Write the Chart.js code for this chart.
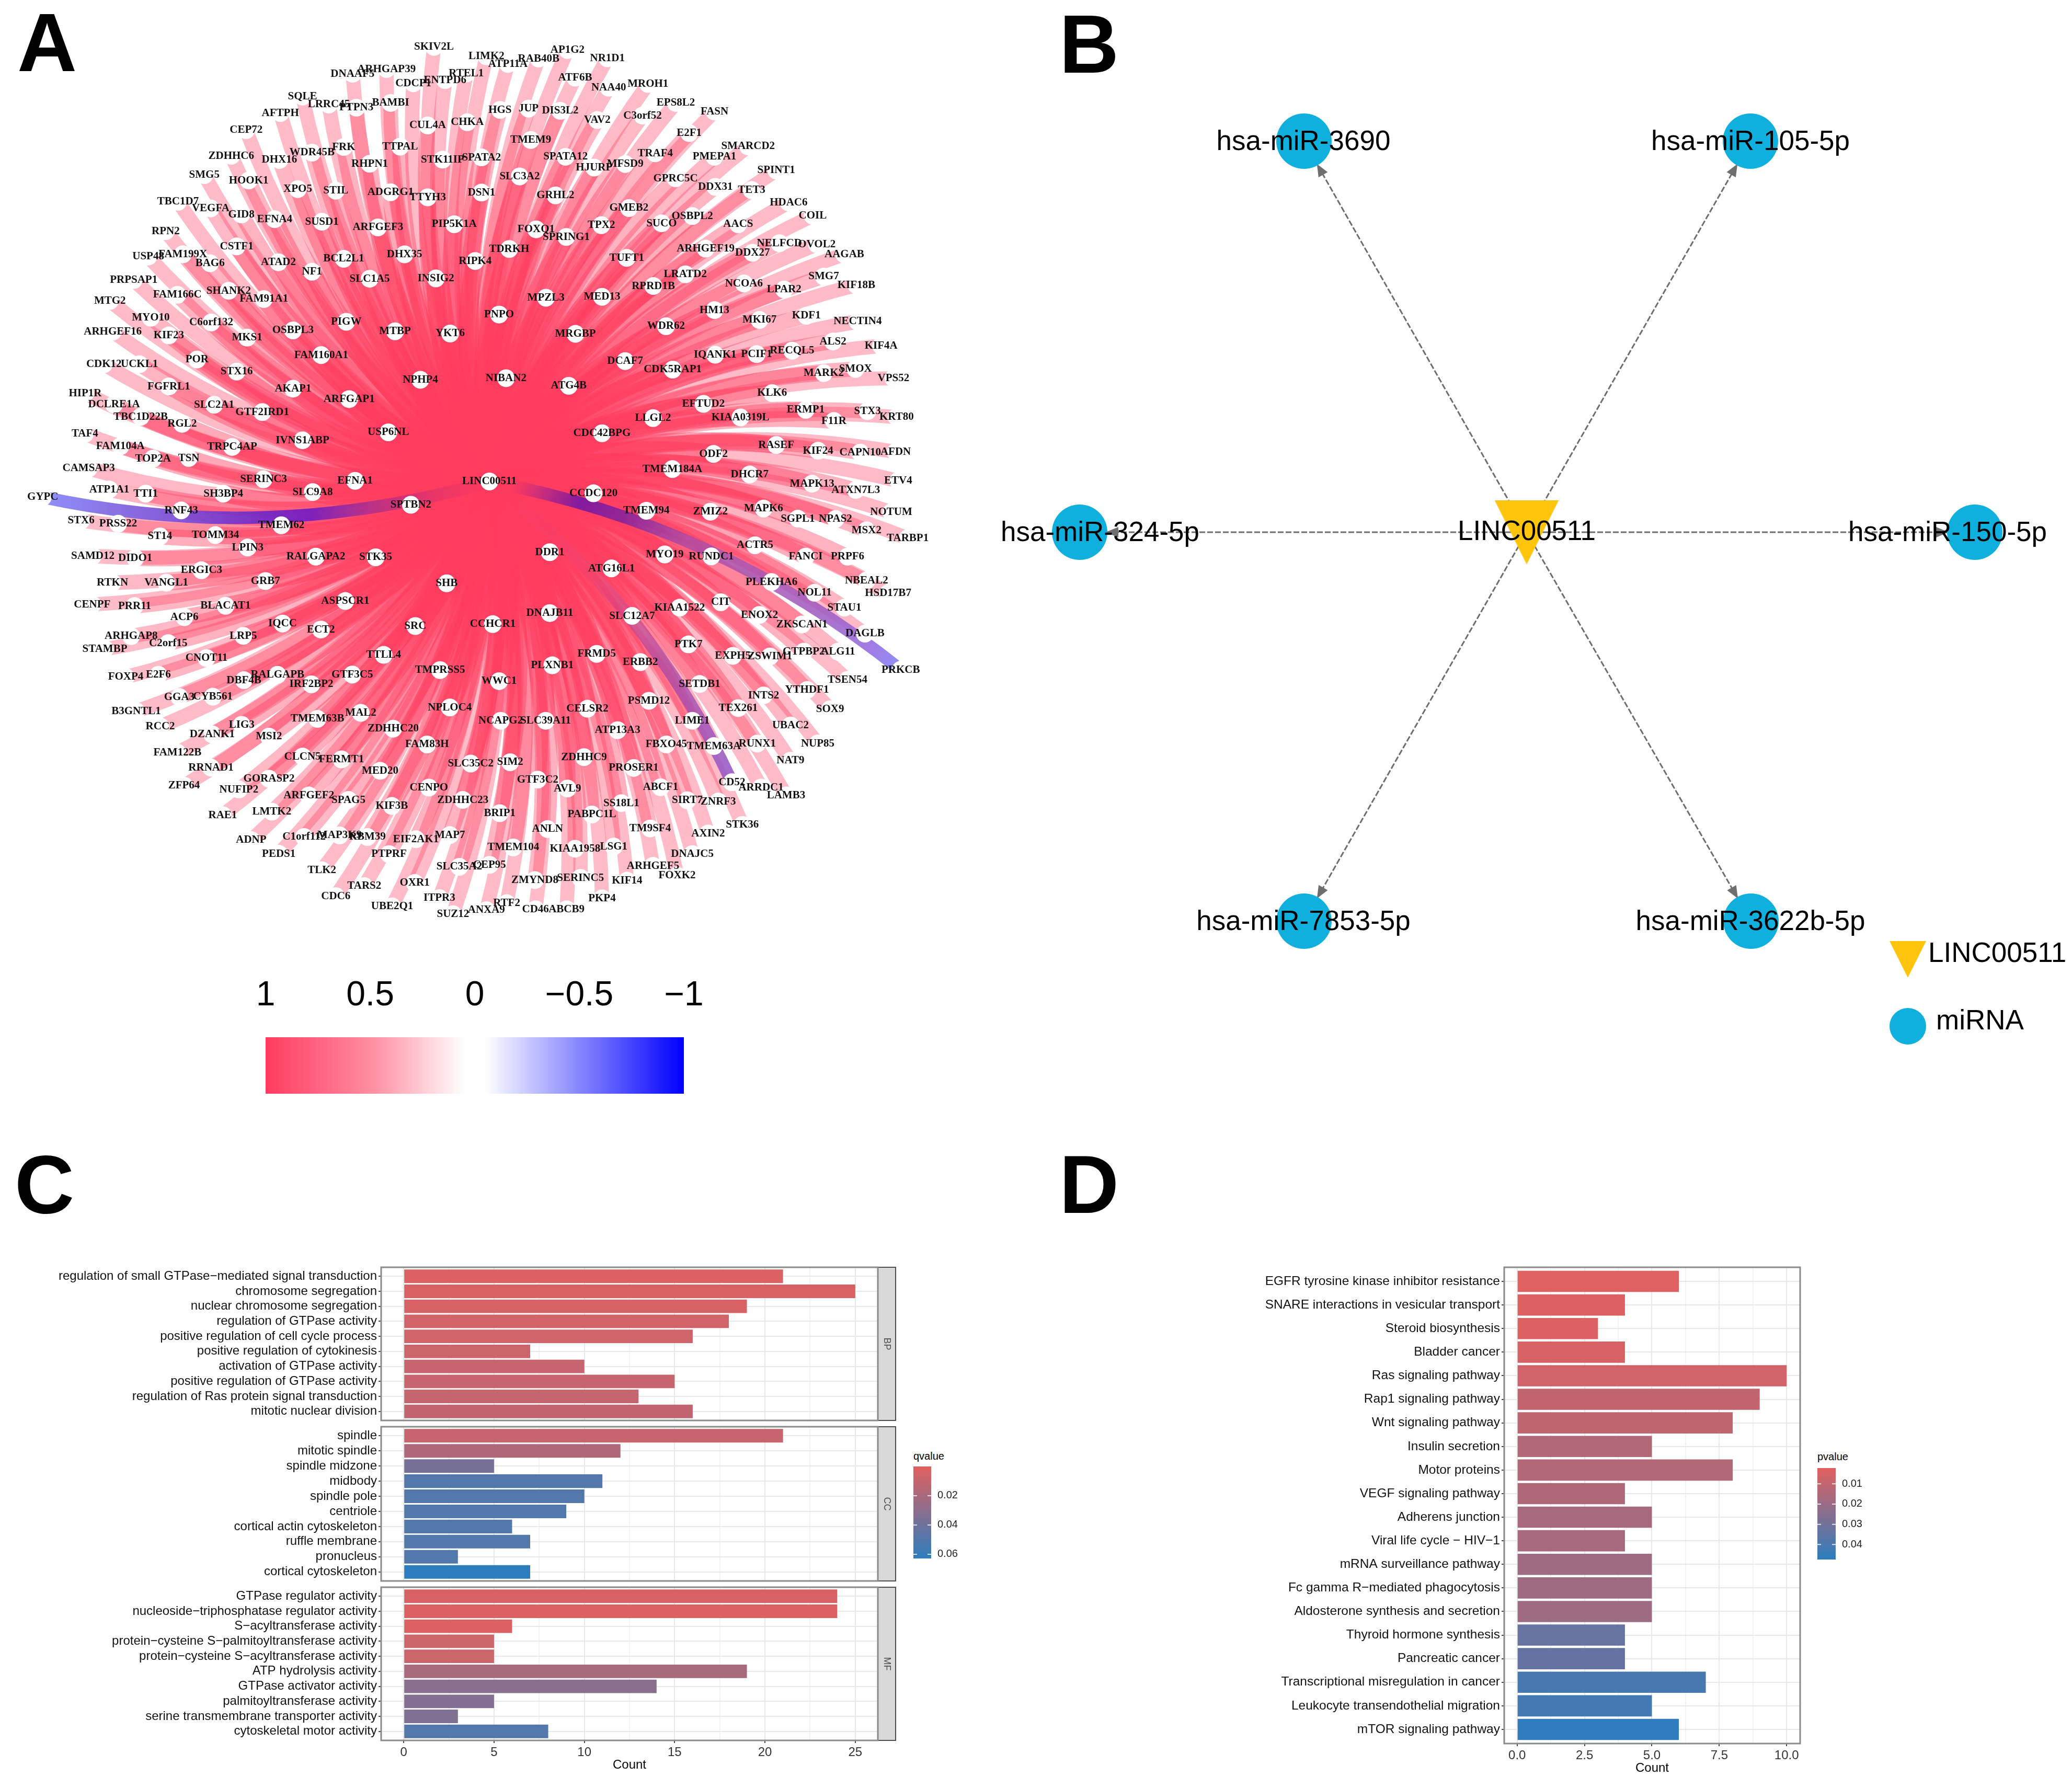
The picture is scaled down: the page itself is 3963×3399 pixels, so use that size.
<!DOCTYPE html>
<html>
<head>
<meta charset="utf-8">
<title>LINC00511 network and enrichment</title>
<script src="https://cdn.jsdelivr.net/npm/chart.js@4/dist/chart.umd.min.js"></script>
<style>
html, body { margin: 0; background: #fff; }
#page { position: relative; width: 3963px; height: 3399px; overflow: hidden; background: #fff; }
#page canvas { position: absolute; filter: blur(0.7px); }
.letter { position: absolute; font: bold 158px/1 "Liberation Sans", Arial, sans-serif; color: #000; }
.barTitle { position: absolute; font: 20px/1 "Liberation Sans", Arial, sans-serif; color: #000; }
</style>
</head>
<body>
<div id="page">
  <div class="letter" style="left:33px;top:2px">A</div>
  <div class="letter" style="left:2026px;top:5px">B</div>
  <div class="letter" style="left:28px;top:2186px">C</div>
  <div class="letter" style="left:2026px;top:2186px">D</div>
  <div class="barTitle" style="left:1747px;top:2775px">qvalue</div>
  <div class="barTitle" style="left:3476px;top:2776px">pvalue</div>
</div>
<script>
// panel A: genes, one list per quadrant [name, x, y] (quadrant units)
const genesNW = [['SKIV2L',1370,148],['DNAAF5',1113,233],['ARHGAP39',1220,218],['RTEL1',1472,232],['CDCP1',1305,263],['ENTPD6',1405,253],['SQLE',955,305],['LRRC45',1038,330],['PTPN3',1125,340],['BAMBI',1233,325],['AFTPH',885,357],['CUL4A',1350,396],['CHKA',1475,386],['CEP72',777,411],['ZDHHC6',730,492],['DHX16',882,505],['WDR45B',985,482],['FRK',1085,464],['TTPAL',1263,463],['RHPN1',1167,517],['STK11IP',1397,504],['SPATA2',1520,497],['SMG5',645,553],['HOOK1',785,570],['XPO5',940,597],['STIL',1060,602],['ADGRG1',1233,607],['TTYH3',1350,623],['DSN1',1520,608],['TBC1D7',562,637],['VEGFA',665,658],['GID8',762,677],['EFNA4',867,692],['SUSD1',1016,700],['ARFGEF3',1193,718],['PIP5K1A',1434,708],['RPN2',523,730],['CSTF1',747,778],['USP48',468,810],['FAM199X',577,803],['BAG6',663,831],['ATAD2',879,828],['BCL2L1',1085,817],['DHX35',1277,803],['RIPK4',1500,824],['NF1',985,858],['SLC1A5',1167,880],['INSIG2',1376,879],['PRPSAP1',422,884],['FAM166C',560,931],['SHANK2',722,918],['FAM91A1',833,944],['MTG2',347,950],['MYO10',476,1003],['C6orf132',667,1018],['PIGW',1093,1016],['OSBPL3',925,1043],['MTBP',1247,1046],['YKT6',1421,1053],['ARHGEF16',356,1047],['KIF23',533,1059],['MKS1',780,1066],['FAM160A1',1014,1121],['POR',622,1135],['CDK12',328,1150],['UCKL1',440,1150],['STX16',747,1173],['NPHP4',1327,1199],['HIP1R',269,1242],['FGFRL1',533,1220],['AKAP1',925,1227],['DCLRE1A',360,1277],['ARFGAP1',1102,1260],['SLC2A1',676,1278],['GTF2IRD1',828,1301],['TBC1D22B',444,1316],['RGL2',575,1338],['USP6NL',1226,1365],['TAF4',268,1370],['IVNS1ABP',955,1390],['FAM104A',380,1409],['TRPC4AP',733,1411],['TOP2A',483,1448],['TSN',596,1446],['CAMSAP3',280,1479],['SERINC3',832,1513],['EFNA1',1121,1518]];
const genesNE = [['LIMK2',50,178],['ATP11A',118,202],['RAB40B',215,185],['AP1G2',306,158],['NR1D1',432,184],['ATF6B',330,245],['NAA40',436,277],['MROH1',560,265],['HGS',93,347],['JUP',183,343],['DIS3L2',283,350],['VAV2',400,379],['C3orf52',543,365],['EPS8L2',648,325],['FASN',770,352],['E2F1',690,420],['TMEM9',190,442],['SPATA12',300,495],['TRAF4',583,484],['HJURP',390,529],['MFSD9',488,518],['PMEPA1',770,495],['SMARCD2',876,462],['SLC3A2',155,557],['GPRC5C',647,563],['DDX31',773,590],['SPINT1',965,538],['TET3',887,600],['GRHL2',268,617],['GMEB2',500,657],['HDAC6',1004,639],['OSBPL2',700,682],['SUCO',603,705],['AACS',845,708],['COIL',1080,681],['FOXQ1',207,724],['TPX2',413,711],['SPRING1',302,748],['NELFCD',975,768],['OVOL2',1093,771],['ARHGEF19',742,785],['DDX27',890,798],['AAGAB',1180,803],['TDRKH',122,786],['TUFT1',493,814],['LRATD2',678,866],['RPRD1B',577,903],['NCOA6',863,895],['SMG7',1115,873],['KIF18B',1218,900],['LPAR2',990,914],['MED13',415,937],['MPZL3',238,940],['HM13',770,979],['PNPO',90,993],['MKI67',912,1010],['KDF1',1060,997],['NECTIN4',1222,1015],['WDR62',617,1030],['MRGBP',331,1054],['ALS2',1144,1078],['KIF4A',1296,1092],['IQANK1',772,1120],['PCIF1',903,1118],['RECQL5',1015,1107],['DCAF7',488,1140],['CDK5RAP1',638,1167],['SMOX',1215,1165],['MARK2',1115,1178],['VPS52',1335,1194],['NIBAN2',112,1194],['ATG4B',310,1218],['KLK6',952,1241],['EFTUD2',735,1275],['ERMP1',1058,1294],['STX3',1253,1298],['KRT80',1345,1317],['F11R',1147,1329],['LLGL2',576,1320],['KIAA0319L',852,1318],['CDC42BPG',415,1368],['RASEF',965,1405],['KIF24',1097,1423],['CAPN10',1230,1429],['AFDN',1342,1427],['ODF2',767,1433],['TMEM184A',637,1481],['DHCR7',881,1498],['ETV4',1350,1518],['MAPK13',1078,1527],['ATXN7L3',1216,1547]];
const genesSW = [['GYPC',135,84],['ATP1A1',345,60],['TTI1',460,73],['SH3BP4',705,73],['SLC9A8',987,68],['RNF43',572,126],['SPTBN2',1297,108],['STX6',256,158],['PRSS22',373,168],['TMEM62',888,173],['ST14',505,208],['TOMM34',680,204],['LPIN3',782,243],['SAMD12',293,270],['DIDO1',427,277],['RALGAPA2',997,272],['STK35',1186,274],['ERGIC3',636,315],['GRB7',838,349],['RTKN',355,354],['VANGL1',525,354],['SHB',1410,356],['ASPSCR1',1090,412],['CENPF',291,423],['PRR11',425,428],['BLACAT1',712,427],['ACP6',582,463],['IQCC',892,483],['SRC',1311,491],['ECT2',1013,502],['ARHGAP8',414,523],['C2orf15',531,545],['LRP5',768,522],['STAMBP',331,564],['CNOT11',652,592],['TTLL4',1211,582],['TMPRSS5',1389,630],['FOXP4',397,652],['E2F6',500,645],['RALGAPB',876,645],['GTF3C5',1112,644],['DBF4B',770,662],['IRF2BP2',983,675],['GGA3',566,715],['CYB561',672,714],['B3GNTL1',430,760],['NPLOC4',1420,748],['MAL2',1139,765],['TMEM63B',1002,784],['RCC2',506,808],['LIG3',763,803],['ZDHHC20',1241,815],['DZANK1',670,833],['MSI2',849,840],['FAM83H',1348,865],['FAM122B',560,891],['CLCN5',955,903],['FERMT1',1078,912],['SLC35C2',1486,925],['RRNAD1',666,938],['MED20',1200,948],['GORASP2',849,973],['ZFP64',581,995],['CENPO',1354,1001],['NUFIP2',754,1007],['ARFGEF2',975,1026],['SPAG5',1100,1040],['ZDHHC23',1461,1040],['KIF3B',1237,1059],['LMTK2',858,1077],['RAE1',703,1088],['C1orf112',960,1157],['MAP3K9',1072,1152],['RBM39',1160,1157],['EIF2AK1',1313,1164],['MAP7',1420,1151],['ADNP',793,1167],['PEDS1',880,1210],['PTPRF',1228,1211],['SLC35A2',1450,1251],['TLK2',1016,1262],['OXR1',1309,1302],['TARS2',1150,1312],['CDC6',1060,1344],['ITPR3',1387,1350],['UBE2Q1',1238,1376],['SUZ12',1430,1401]];
const genesSE = [['CCDC120',388,72],['TMEM94',555,127],['ZMIZ2',757,130],['MAPK6',925,120],['SGPL1',1033,152],['NPAS2',1152,153],['NOTUM',1328,132],['MSX2',1250,189],['TARBP1',1380,214],['ACTR5',898,236],['DDR1',250,258],['MYO19',613,265],['RUNDC1',760,271],['FANCI',1058,272],['PRPF6',1190,272],['ATG16L1',445,309],['NBEAL2',1250,347],['PLEKHA6',950,352],['NOL11',1086,386],['HSD17B7',1318,388],['CIT',790,416],['KIAA1522',660,433],['STAU1',1180,433],['DNAJB11',250,450],['SLC12A7',510,459],['ENOX2',912,456],['ZKSCAN1',1046,486],['DAGLB',1245,515],['CCHCR1',70,485],['PTK7',688,549],['FRMD5',398,579],['EXPH5',828,585],['ZSWIM1',945,587],['GTPBP2',1052,572],['ALG11',1160,572],['ERBB2',536,605],['PLXNB1',258,615],['PRKCB',1358,629],['TSEN54',1190,661],['WWC1',90,665],['SETDB1',723,674],['YTHDF1',1062,693],['INTS2',925,710],['PSMD12',563,727],['TEX261',845,750],['CELSR2',369,752],['SOX9',1135,754],['ATP13A3',464,820],['LIME1',700,790],['NCAPG2',95,790],['SLC39A11',237,790],['UBAC2',1010,805],['FBXO45',618,865],['TMEM63A',768,870],['RUNX1',905,862],['NUP85',1096,862],['SIM2',125,921],['ZDHHC9',358,905],['NAT9',1010,916],['PROSER1',515,939],['GTF3C2',212,976],['AVL9',306,1004],['CD52',825,984],['ABCF1',600,1000],['ARRDC1',917,1001],['LAMB3',996,1026],['SIRT7',684,1041],['ZNRF3',782,1045],['SS18L1',476,1050],['BRIP1',92,1082],['PABPC1L',383,1086],['STK36',858,1119],['ANLN',243,1132],['TM9SF4',567,1130],['AXIN2',750,1146],['TMEM104',135,1190],['KIAA1958',330,1194],['LSG1',452,1187],['DNAJC5',700,1211],['ARHGEF5',576,1248],['CEP95',60,1245],['FOXK2',652,1279],['ZMYND8',203,1293],['SERINC5',347,1286],['KIF14',494,1295],['PKP4',415,1351],['RTF2',114,1366],['ANXA9',50,1388],['CD46',205,1385],['ABCB9',303,1385]];
const hub = ['LINC00511', 936, 921];
const negativeGenes = ['GYPC', 'PRKCB', 'CD52'];
const corrTicks = [1, 0.5, 0, -0.5, -1];

// panel B
const mirnaNames = ['hsa-miR-3690', 'hsa-miR-105-5p', 'hsa-miR-324-5p', 'hsa-miR-150-5p', 'hsa-miR-7853-5p', 'hsa-miR-3622b-5p'];
const mirnaX = [2494, 3348, 2065, 3777, 2494, 3349];
const mirnaY = [270, 270, 1018, 1018, 1762, 1762];
const mirnaLabelX = [2493, 3348, 2104, 3725, 2493, 3348];
const lncX = 2920, lncY = 1018;

// panel C
const bpTerms = ['regulation of small GTPase−mediated signal transduction', 'chromosome segregation', 'nuclear chromosome segregation', 'regulation of GTPase activity', 'positive regulation of cell cycle process', 'positive regulation of cytokinesis', 'activation of GTPase activity', 'positive regulation of GTPase activity', 'regulation of Ras protein signal transduction', 'mitotic nuclear division'];
const bpCounts = [21, 25, 19, 18, 16, 7, 10, 15, 13, 16];
const bpQ = [0.002, 0.003, 0.004, 0.006, 0.007, 0.008, 0.009, 0.009, 0.010, 0.011];
const ccTerms = ['spindle', 'mitotic spindle', 'spindle midzone', 'midbody', 'spindle pole', 'centriole', 'cortical actin cytoskeleton', 'ruffle membrane', 'pronucleus', 'cortical cytoskeleton'];
const ccCounts = [21, 12, 5, 11, 10, 9, 6, 7, 3, 7];
const ccQ = [0.009, 0.018, 0.037, 0.05, 0.05, 0.05, 0.05, 0.05, 0.05, 0.063];
const mfTerms = ['GTPase regulator activity', 'nucleoside−triphosphatase regulator activity', 'S−acyltransferase activity', 'protein−cysteine S−palmitoyltransferase activity', 'protein−cysteine S−acyltransferase activity', 'ATP hydrolysis activity', 'GTPase activator activity', 'palmitoyltransferase activity', 'serine transmembrane transporter activity', 'cytoskeletal motor activity'];
const mfCounts = [24, 24, 6, 5, 5, 19, 14, 5, 3, 8];
const mfQ = [0.004, 0.002, 0.002, 0.008, 0.008, 0.02, 0.031, 0.033, 0.034, 0.05];
const goCountTicks = [0, 2.5, 5, 7.5, 10, 12.5, 15, 17.5, 20, 22.5, 25];
const qTicks = [0.02, 0.04, 0.06];

// panel D
const keggTerms = ['EGFR tyrosine kinase inhibitor resistance', 'SNARE interactions in vesicular transport', 'Steroid biosynthesis', 'Bladder cancer', 'Ras signaling pathway', 'Rap1 signaling pathway', 'Wnt signaling pathway', 'Insulin secretion', 'Motor proteins', 'VEGF signaling pathway', 'Adherens junction', 'Viral life cycle − HIV−1', 'mRNA surveillance pathway', 'Fc gamma R−mediated phagocytosis', 'Aldosterone synthesis and secretion', 'Thyroid hormone synthesis', 'Pancreatic cancer', 'Transcriptional misregulation in cancer', 'Leukocyte transendothelial migration', 'mTOR signaling pathway'];
const keggCounts = [6, 4, 3, 4, 10, 9, 8, 5, 8, 4, 5, 4, 5, 5, 5, 4, 4, 7, 5, 6];
const keggP = [0.003, 0.0035, 0.004, 0.005, 0.007, 0.010, 0.011, 0.014, 0.014, 0.015, 0.017, 0.017, 0.019, 0.019, 0.019, 0.033, 0.034, 0.041, 0.042, 0.047];
const keggCountTicks = [0, 1.25, 2.5, 3.75, 5, 6.25, 7.5, 8.75, 10];
const pTicks = [0.01, 0.02, 0.03, 0.04];

const page = document.getElementById('page');
const SANS = '"Liberation Sans", Arial, sans-serif';
const SERIF = '"Liberation Serif", "Times New Roman", serif';
const RED = [226, 96, 95], BLUE = [45, 125, 190];

function addCanvas(x, y, w, h) {
    const c = document.createElement('canvas');
    c.width = w; c.height = h;
    c.style.left = x + 'px'; c.style.top = y + 'px';
    c.style.width = w + 'px'; c.style.height = h + 'px';
    page.appendChild(c);
    return c.getContext('2d');
}

function mixColor(t) {
    t = Math.max(0, Math.min(1, t));
    const c = RED.map((v, i) => Math.round(v + (BLUE[i] - v) * t));
    return `rgb(${c[0]},${c[1]},${c[2]})`;
}

const base = { responsive: false, animation: false, devicePixelRatio: 1, events: [] };
const noPlugins = { legend: { display: false }, tooltip: { enabled: false }, title: { display: false } };

function noPad(s) { s.paddingTop = s.paddingBottom = s.paddingLeft = s.paddingRight = 0; }

// ---------- panel A
const QUAD = 950 / 1568;
function place(list, ox, oy) { return list.map(g => ({ name: g[0], x: ox + g[1] * QUAD, y: oy + g[2] * QUAD })); }
const genes = [...place(genesNW, 0, 0), ...place(genesNE, 900, 0), ...place(genesSW, 0, 900), ...place(genesSE, 900, 900)];
const hubNode = { name: hub[0], x: hub[1], y: hub[2] };

// gradient stops for the three negative edges, along the chord
const negativeStops = {
    GYPC: [[0, 'rgba(150,30,140,0)'], [0.12, 'rgba(150,30,140,0.2)'], [0.25, 'rgba(150,40,150,0.6)'], [0.4, 'rgba(120,30,190,0.95)'], [0.5, 'rgba(115,40,195,0.95)'], [0.7, 'rgba(120,70,210,0.9)'], [0.85, 'rgba(125,100,225,0.9)'], [1, 'rgba(125,125,250,0.85)']],
    PRKCB: [[0.05, 'rgba(110,20,170,0)'], [0.2, 'rgba(110,20,170,0.85)'], [0.3, 'rgba(120,30,160,0.8)'], [0.45, 'rgba(160,70,170,0.7)'], [0.75, 'rgba(160,85,185,0.85)'], [0.92, 'rgba(150,110,225,0.9)'], [1, 'rgba(125,125,250,0.85)']],
    CD52: [[0, 'rgba(165,70,165,0)'], [0.35, 'rgba(165,70,165,0.1)'], [0.65, 'rgba(165,70,165,0.7)'], [1, 'rgba(150,90,200,0.9)']]
};

const ribbonPlugin = {
    id: 'ribbons',
    beforeDatasetsDraw(chart) {
        const { ctx, scales: { x, y } } = chart;
        const x0 = x.getPixelForValue(hubNode.x), y0 = y.getPixelForValue(hubNode.y);
        const curve = (g) => {
            const x1 = x.getPixelForValue(g.x), y1 = y.getPixelForValue(g.y);
            const dx = x1 - x0, dy = y1 - y0;
            ctx.beginPath();
            ctx.moveTo(x0, y0);
            ctx.quadraticCurveTo((x0 + x1) / 2 + dy * 0.125, (y0 + y1) / 2 - dx * 0.125, x1, y1);
            return [x1, y1, Math.hypot(dx, dy)];
        };
        ctx.save();
        ctx.lineCap = 'butt';
        // nodes closer to the hub carry stronger, thicker edges
        genes.filter(g => !negativeGenes.includes(g.name))
            .forEach(g => {
                const r = curve(g)[2];
                const k = Math.max(0, 1 - r / 800);
                ctx.lineWidth = 27 + k * 18;
                ctx.strokeStyle = `rgba(255,60,95,${0.34 + k * 0.38})`;
                ctx.stroke();
            });
        ctx.lineWidth = 24;
        genes.filter(g => negativeGenes.includes(g.name)).forEach(g => {
            const [x1, y1] = curve(g);
            const grad = ctx.createLinearGradient(x0, y0, x1, y1);
            negativeStops[g.name].forEach(s => grad.addColorStop(s[0], s[1]));
            ctx.strokeStyle = grad;
            ctx.stroke();
        });
        ctx.restore();
    },
    afterDatasetsDraw(chart) {
        const { ctx, scales: { x, y } } = chart;
        ctx.save();
        ctx.font = `bold 21px ${SERIF}`;
        ctx.fillStyle = '#111';
        ctx.textAlign = 'center';
        ctx.textBaseline = 'middle';
        [...genes, hubNode].forEach(g => ctx.fillText(g.name, x.getPixelForValue(g.x), y.getPixelForValue(g.y)));
        ctx.restore();
    }
};

new Chart(addCanvas(0, 0, 1900, 1850), {
    type: 'scatter',
    data: { datasets: [{ data: [...genes, hubNode], pointRadius: 17, pointBackgroundColor: '#fff', pointBorderWidth: 0 }] },
    options: {
        ...base,
        layout: { autoPadding: false },
        plugins: noPlugins,
        scales: {
            x: { display: false, min: 0, max: 1900 },
            y: { display: false, min: 0, max: 1850, reverse: true }
        }
    },
    plugins: [ribbonPlugin]
});

// colour key of panel A
new Chart(addCanvas(458, 1850, 900, 250), {
    type: 'bar',
    data: { labels: [''], datasets: [{
        data: [[-1, 1]],
        barPercentage: 1, categoryPercentage: 1,
        backgroundColor(c) {
            const a = c.chart.chartArea;
            if (!a) return '#fff';
            const g = c.chart.ctx.createLinearGradient(a.left, 0, a.right, 0);
            g.addColorStop(0, '#ff3b60');
            g.addColorStop(0.25, '#ff8ca0');
            g.addColorStop(0.475, '#ffffff');
            g.addColorStop(0.525, '#ffffff');
            g.addColorStop(1, '#0000ff');
            return g;
        }
    }] },
    options: {
        ...base,
        indexAxis: 'y',
        plugins: noPlugins,
        layout: { padding: { left: 50, right: 50, bottom: 8 } },
        scales: {
            y: { display: false },
            x: {
                position: 'top', reverse: true, min: -1, max: 1,
                afterBuildTicks(s) { s.ticks = corrTicks.map(value => ({ value })); },
                afterFit(s) { s.height = 134; noPad(s); },
                border: { display: false },
                grid: { display: false, drawTicks: false },
                ticks: {
                    autoSkip: false, maxRotation: 0, padding: 40,
                    font: { family: SANS, size: 66 }, color: '#000',
                    callback: v => String(v).replace('-', '−')
                }
            }
        }
    }
});

// ---------- panel B
function markerCanvas(kind, w, h, color) {
    const c = document.createElement('canvas');
    c.width = w; c.height = h;
    const g = c.getContext('2d');
    g.fillStyle = color;
    g.beginPath();
    if (kind === 'tri') {
        g.moveTo(0, 0); g.lineTo(w, 0); g.lineTo(w / 2, h); g.closePath();
    } else {
        g.arc(w / 2, h / 2, w / 2, 0, Math.PI * 2);
    }
    g.fill();
    return c;
}
const YELLOW = '#ffc40c', CYAN = '#0fb0dd';

const networkPlugin = {
    id: 'network',
    beforeDatasetsDraw(chart) {
        const { ctx, scales: { x, y } } = chart;
        ctx.save();
        ctx.strokeStyle = '#6e6e6e';
        ctx.fillStyle = '#6e6e6e';
        ctx.lineWidth = 3;
        mirnaX.forEach((mx, i) => {
            const x0 = x.getPixelForValue(lncX), y0 = y.getPixelForValue(lncY);
            const x1 = x.getPixelForValue(mx), y1 = y.getPixelForValue(mirnaY[i]);
            const len = Math.hypot(x1 - x0, y1 - y0), ux = (x1 - x0) / len, uy = (y1 - y0) / len;
            const ex = x1 - ux * 50, ey = y1 - uy * 50;
            ctx.setLineDash([11, 4]);
            ctx.beginPath(); ctx.moveTo(x0, y0); ctx.lineTo(ex, ey); ctx.stroke();
            ctx.setLineDash([]);
            ctx.beginPath();
            ctx.moveTo(ex, ey);
            ctx.lineTo(ex - ux * 24 - uy * 10, ey - uy * 24 + ux * 10);
            ctx.lineTo(ex - ux * 24 + uy * 10, ey - uy * 24 - ux * 10);
            ctx.closePath(); ctx.fill();
        });
        ctx.restore();
    },
    afterDatasetsDraw(chart) {
        const { ctx, scales: { x, y } } = chart;
        ctx.save();
        ctx.fillStyle = '#000';
        ctx.font = `53px ${SANS}`;
        ctx.textAlign = 'center';
        ctx.textBaseline = 'middle';
        mirnaNames.forEach((n, i) => ctx.fillText(n, x.getPixelForValue(mirnaLabelX[i]), y.getPixelForValue(mirnaY[i]) + 2));
        ctx.fillText('LINC00511', x.getPixelForValue(lncX), y.getPixelForValue(lncY));
        ctx.textAlign = 'left';
        ctx.fillText('LINC00511', x.getPixelForValue(3688), y.getPixelForValue(1825));
        ctx.fillText('miRNA', x.getPixelForValue(3703), y.getPixelForValue(1954));
        ctx.restore();
    }
};

new Chart(addCanvas(1900, 0, 2063, 2100), {
    type: 'scatter',
    data: { datasets: [
        { data: mirnaX.map((x, i) => ({ x, y: mirnaY[i] })), pointStyle: markerCanvas('dot', 106, 106, CYAN) },
        { data: [{ x: lncX, y: lncY }], pointStyle: markerCanvas('tri', 123, 123, YELLOW) },
        { data: [{ x: 3649, y: 1835 }], pointStyle: markerCanvas('tri', 70, 70, YELLOW) },
        { data: [{ x: 3649, y: 1963 }], pointStyle: markerCanvas('dot', 70, 70, CYAN) }
    ] },
    options: {
        ...base,
        layout: { autoPadding: false },
        plugins: noPlugins,
        scales: {
            x: { display: false, min: 1900, max: 3963 },
            y: { display: false, min: 0, max: 2100, reverse: true }
        }
    },
    plugins: [networkPlugin]
});

// ---------- panels C and D: ggplot style bars
function framePlugin(strip) {
    return {
        id: 'frame',
        afterDatasetsDraw(chart) {
            const { ctx, chartArea: a } = chart;
            ctx.save();
            if (strip) {
                ctx.fillStyle = '#d9d9d9';
                ctx.fillRect(a.right, a.top, 34, a.bottom - a.top);
                ctx.strokeStyle = '#4d4d4d';
                ctx.lineWidth = 2;
                ctx.strokeRect(a.right, a.top, 34, a.bottom - a.top);
                ctx.translate(a.right + 17, (a.top + a.bottom) / 2);
                ctx.rotate(Math.PI / 2);
                ctx.fillStyle = '#4d4d4d';
                ctx.font = `18px ${SANS}`;
                ctx.textAlign = 'center';
                ctx.textBaseline = 'middle';
                ctx.fillText(strip, 0, 0);
                ctx.restore();
                ctx.save();
            }
            ctx.strokeStyle = '#8a8a8a';
            ctx.lineWidth = 3;
            ctx.strokeRect(a.left, a.top, a.right - a.left, a.bottom - a.top);
            ctx.restore();
        }
    };
}

// px: chart area rectangle on the page; axisH: room under it for ticks
function barPanel(terms, counts, fill, cfg) {
    const gutter = cfg.gutter, pad = 3, right = cfg.strip ? 40 : 6;
    const w = gutter + (cfg.px[2] - cfg.px[0]) + right, h = pad + (cfg.px[3] - cfg.px[1]) + cfg.axisH;
    const rows = terms.map((t, i) => i + 1);
    new Chart(addCanvas(cfg.px[0] - gutter, cfg.px[1] - pad, w, h), {
        type: 'bar',
        data: { datasets: [{
            data: counts.map((c, i) => ({ x: c, y: rows[i] })),
            backgroundColor: fill,
            categoryPercentage: 1, barPercentage: 0.9
        }] },
        options: {
            ...base,
            indexAxis: 'y',
            plugins: noPlugins,
            layout: { padding: { top: pad, right } },
            scales: {
                x: {
                    type: 'linear', min: cfg.xRange[0], max: cfg.xRange[1],
                    afterBuildTicks(s) { s.ticks = cfg.xTicks.map(value => ({ value })); },
                    afterFit(s) { s.height = cfg.axisH; noPad(s); },
                    border: { display: false },
                    grid: {
                        color: c => cfg.isMajor(c.tick ? c.tick.value : 0) ? '#e8e8e8' : '#f3f3f3',
                        tickColor: c => (cfg.showX && cfg.isMajor(c.tick ? c.tick.value : 0)) ? '#444' : 'rgba(0,0,0,0)',
                        tickLength: 5, lineWidth: 2
                    },
                    ticks: {
                        display: !!cfg.showX, autoSkip: false, maxRotation: 0, padding: 4,
                        font: { family: SANS, size: 24 }, color: '#333',
                        callback: v => cfg.isMajor(v) ? cfg.fmt(v) : ''
                    },
                    title: { display: !!cfg.showX, text: 'Count', font: { family: SANS, size: 24 }, color: '#000', padding: 0 }
                },
                y: {
                    type: 'linear', reverse: true, offset: false, min: 0.4, max: terms.length + 0.6,
                    afterBuildTicks(s) { s.ticks = rows.map(value => ({ value })); },
                    afterFit(s) { s.width = gutter; noPad(s); },
                    border: { display: false },
                    grid: { offset: false, color: '#e8e8e8', lineWidth: 2, tickColor: '#444', tickLength: 5 },
                    ticks: {
                        autoSkip: false, padding: 3,
                        font: { family: SANS, size: cfg.labelSize || 24 }, color: '#111',
                        callback: v => terms[v - 1]
                    }
                }
            }
        },
        plugins: [framePlugin(cfg.strip)]
    });
}

const QMAX = 0.0629;
const goCfg = {
    gutter: 700, xRange: [-1.25, 26.25], xTicks: goCountTicks,
    isMajor: v => v % 5 === 0, fmt: v => String(v)
};
barPanel(bpTerms, bpCounts, bpQ.map(q => mixColor(q / QMAX)), { ...goCfg, px: [729, 2424, 1679, 2717], axisH: 4, strip: 'BP' });
barPanel(ccTerms, ccCounts, ccQ.map(q => mixColor(q / QMAX)), { ...goCfg, px: [729, 2729, 1679, 3024], axisH: 4, strip: 'CC' });
barPanel(mfTerms, mfCounts, mfQ.map(q => mixColor(q / QMAX)), { ...goCfg, px: [729, 3036, 1679, 3329], axisH: 62, strip: 'MF', showX: true });

const PMIN = 0.0022, PMAX = 0.0474;
barPanel(keggTerms, keggCounts, keggP.map(p => mixColor((p - PMIN) / (PMAX - PMIN))), {
    gutter: 600, px: [2877, 2424, 3443, 3335], axisH: 62, showX: true, labelSize: 24.5,
    xRange: [-0.48, 10.5], xTicks: keggCountTicks,
    isMajor: v => v % 2.5 === 0, fmt: v => v.toFixed(1)
});

// colour bars of the two enrichment plots
function colorBar(x, y, w, h, lo, hi, ticks) {
    const labelW = 80;
    new Chart(addCanvas(x, y, w + labelW, h), {
        type: 'bar',
        data: { labels: [''], datasets: [{
            data: [[lo, hi]],
            categoryPercentage: 1, barPercentage: 1,
            backgroundColor(c) {
                const a = c.chart.chartArea;
                if (!a) return '#fff';
                const g = c.chart.ctx.createLinearGradient(0, a.top, 0, a.bottom);
                g.addColorStop(0, mixColor(0));
                g.addColorStop(1, mixColor(1));
                return g;
            }
        }] },
        options: {
            ...base,
            plugins: noPlugins,
            scales: {
                x: { display: false },
                y: {
                    position: 'right', reverse: true, min: lo, max: hi,
                    afterBuildTicks(s) { s.ticks = ticks.map(value => ({ value })); },
                    afterFit(s) { s.width = labelW; noPad(s); },
                    border: { display: false },
                    grid: { display: false, drawTicks: false },
                    ticks: {
                        autoSkip: false, padding: 12,
                        font: { family: SANS, size: 20 }, color: '#222',
                        callback: v => v.toFixed(2)
                    }
                }
            }
        },
        plugins: [{
            id: 'barTicks',
            afterDatasetsDraw(chart) {
                const { ctx, chartArea: a, scales: { y: ys } } = chart;
                ctx.save();
                ctx.strokeStyle = 'rgba(255,255,255,0.8)';
                ctx.lineWidth = 2;
                ticks.forEach(t => {
                    const py = ys.getPixelForValue(t);
                    ctx.beginPath();
                    ctx.moveTo(a.left, py); ctx.lineTo(a.left + 7, py);
                    ctx.moveTo(a.right - 7, py); ctx.lineTo(a.right, py);
                    ctx.stroke();
                });
                ctx.restore();
            }
        }]
    });
}
colorBar(1747, 2805, 34, 176, 0, QMAX, qTicks);
colorBar(3476, 2808, 35, 175, PMIN, PMAX, pTicks);
</script>
</body>
</html>
